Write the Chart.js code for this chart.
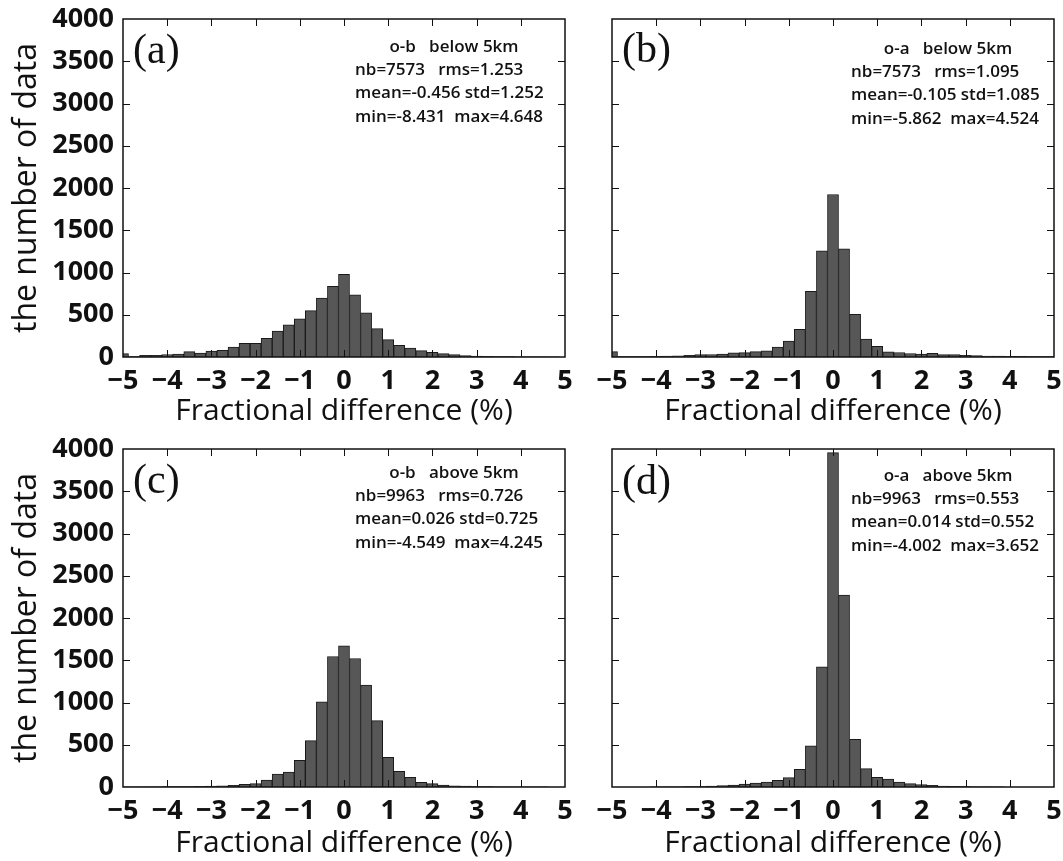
<!DOCTYPE html>
<html lang="en">
<head>
    <meta charset="UTF-8">
    <title>Fractional difference histograms</title>
    <script src="https://cdn.jsdelivr.net/npm/chart.js"></script>
    <style>
        body {
            margin: 0;
            background: #fff;
        }
        #fig {
            position: relative;
            width: 1063px;
            height: 861px;
            background: #fff;
        }
        canvas {
            position: absolute;
        }
    </style>
</head>
<body>
<div id="fig">
    <canvas id="panelA" width="590" height="430" style="left:0;top:0"></canvas>
    <canvas id="panelB" width="483" height="430" style="left:580px;top:0"></canvas>
    <canvas id="panelC" width="590" height="431" style="left:0;top:430px"></canvas>
    <canvas id="panelD" width="483" height="431" style="left:580px;top:430px"></canvas>
</div>

<script>
    // bin centres (%), 0.25 wide
    const binCenters = [
        -5, -4.75, -4.5, -4.25, -4, -3.75, -3.5, -3.25, -3, -2.75,
        -2.5, -2.25, -2, -1.75, -1.5, -1.25, -1, -0.75, -0.5, -0.25,
        0, 0.25, 0.5, 0.75, 1, 1.25, 1.5, 1.75, 2, 2.25,
        2.5, 2.75, 3, 3.25, 3.5, 3.75, 4, 4.25, 4.5, 4.75, 5
    ];

    // (a) o-b below 5km
    const countsA = [
        40, 5, 20, 20, 30, 35, 63, 47, 71, 79,
        118, 161, 161, 220, 307, 382, 453, 548, 697, 835,
        977, 737, 524, 335, 205, 138, 106, 75, 55, 39,
        28, 16, 12, 8, 5, 4, 3, 2, 2, 1, 0
    ];
    // (b) o-a below 5km
    const countsB = [
        63, 5, 5, 6, 8, 10, 15, 20, 28, 30,
        35, 48, 51, 63, 72, 118, 189, 327, 776, 1257,
        1923, 1281, 506, 213, 126, 61, 53, 41, 35, 43,
        28, 28, 20, 16, 12, 10, 8, 8, 6, 5, 4
    ];
    // (c) o-b above 5km
    const countsC = [
        1, 1, 2, 3, 6, 4, 5, 8, 12, 15,
        20, 32, 40, 83, 154, 178, 316, 549, 1007, 1544,
        1671, 1521, 1205, 786, 352, 186, 115, 55, 40, 24,
        15, 10, 6, 4, 3, 2, 1, 1, 1, 0, 0
    ];
    // (d) o-a above 5km
    const countsD = [
        0, 0, 0, 0, 1, 2, 3, 4, 6, 10,
        16, 24, 35, 47, 57, 79, 111, 209, 486, 1422,
        3958, 2271, 565, 217, 115, 95, 59, 40, 28, 20,
        12, 8, 5, 3, 2, 1, 0, 0, 0, 0, 0
    ];

    const statsA = ['o-b   below 5km', 'nb=7573   rms=1.253', 'mean=-0.456 std=1.252', 'min=-8.431  max=4.648'];
    const statsB = ['o-a   below 5km', 'nb=7573   rms=1.095', 'mean=-0.105 std=1.085', 'min=-5.862  max=4.524'];
    const statsC = ['o-b   above 5km', 'nb=9963   rms=0.726', 'mean=0.026 std=0.725', 'min=-4.549  max=4.245'];
    const statsD = ['o-a   above 5km', 'nb=9963   rms=0.553', 'mean=0.014 std=0.552', 'min=-4.002  max=3.652'];

    const xRange = [-5, 5];
    const xStep = 1;
    const yRange = [0, 4000];
    const yStep = 500;

    const xTitle = 'Fractional difference (%)';
    const yTitle = 'the number of data';

    const ink = '#111';
    const barFill = '#575757';
    const barEdge = '#1a1a1a';
    const tickFont = { family: '"Open Sans"', size: 27, weight: 'bold' };
    const xTitleFont = { family: '"Open Sans"', size: 30, weight: 'normal' };
    const yTitleFont = { family: '"Open Sans"', size: 32, weight: 'normal' };

    // frame, inward ticks on all sides, panel letter and stats box
    const framePlugin = {
        id: 'frame',
        afterDatasetsDraw(chart, args, opts) {
            const { ctx, chartArea: a } = chart;
            const x = chart.scales.x, y = chart.scales.y;
            ctx.save();
            ctx.strokeStyle = ink;
            ctx.lineWidth = 1;
            ctx.beginPath();
            x.ticks.forEach(t => {
                const px = Math.round(x.getPixelForValue(t.value)) + 0.5;
                if (px < a.left + 2 || px > a.right - 2) return;
                ctx.moveTo(px, a.bottom); ctx.lineTo(px, a.bottom - 7);
                ctx.moveTo(px, a.top); ctx.lineTo(px, a.top + 7);
            });
            y.ticks.forEach(t => {
                const py = Math.round(y.getPixelForValue(t.value)) + 0.5;
                if (py < a.top + 2 || py > a.bottom - 2) return;
                ctx.moveTo(a.left, py); ctx.lineTo(a.left + 7, py);
                ctx.moveTo(a.right, py); ctx.lineTo(a.right - 7, py);
            });
            ctx.stroke();
            ctx.lineWidth = 1.5;
            ctx.strokeRect(a.left, a.top, a.right - a.left, a.bottom - a.top);

            ctx.fillStyle = ink;
            ctx.textBaseline = 'middle';
            ctx.textAlign = 'left';
            ctx.font = '42px "Liberation Serif"';
            ctx.fillText(opts.letter, a.left + 10, a.top + opts.letterDy);

            ctx.font = '600 17px "Open Sans"';
            ctx.textAlign = 'center';
            ctx.fillText(opts.stats[0], a.left + opts.statCx, a.top + opts.statTop);
            ctx.textAlign = 'left';
            for (let i = 1; i < opts.stats.length; i++) {
                ctx.fillText(opts.stats[i], a.left + opts.statLx, a.top + opts.statTop + i * 23.3);
            }
            ctx.restore();
        }
    };

    function fmtX(v) {
        return v < 0 ? '\u2212' + Math.abs(v) : String(v);
    }

    function makePanel(id, counts, stats, p) {
        return new Chart(document.getElementById(id), {
            type: 'bar',
            data: {
                datasets: [{
                    data: binCenters.map((c, i) => ({ x: c, y: counts[i] })),
                    backgroundColor: barFill,
                    borderColor: barEdge,
                    borderWidth: 1,
                    borderSkipped: 'start',
                    barPercentage: 1,
                    categoryPercentage: 1,
                    clip: 0
                }]
            },
            options: {
                responsive: false,
                animation: false,
                events: [],
                layout: { padding: p.pad },
                plugins: {
                    legend: { display: false },
                    tooltip: { enabled: false },
                    frame: {
                        letter: p.letter, letterDy: p.letterDy, stats: stats,
                        statCx: p.statCx, statLx: p.statLx, statTop: p.statTop
                    }
                },
                scales: {
                    x: {
                        type: 'linear',
                        min: xRange[0], max: xRange[1],
                        offset: false,
                        grid: { display: false, drawTicks: false },
                        border: { display: false },
                        ticks: {
                            stepSize: xStep, autoSkip: false, maxRotation: 0, minRotation: 0,
                            padding: 8, color: ink, font: tickFont, callback: fmtX
                        },
                        title: {
                            display: true, text: xTitle, color: ink, font: xTitleFont,
                            padding: { top: 0, bottom: p.xTitlePad }
                        },
                        afterFit: s => { s.height = p.xHeight; s.paddingLeft = 0; s.paddingRight = 0; }
                    },
                    y: {
                        type: 'linear',
                        min: yRange[0], max: yRange[1],
                        grid: { display: false, drawTicks: false },
                        border: { display: false },
                        ticks: {
                            display: p.showY, stepSize: yStep, padding: 9,
                            color: ink, font: tickFont, callback: v => String(v)
                        },
                        title: {
                            display: p.showY, text: yTitle, color: ink, font: yTitleFont,
                            padding: { top: 8, bottom: 0 }
                        },
                        afterFit: s => { s.width = p.yWidth; s.paddingTop = 0; s.paddingBottom = 0; }
                    }
                }
            },
            plugins: [framePlugin]
        });
    }

    makePanel('panelA', countsA, statsA, {
        pad: { left: 0, top: 19, right: 25, bottom: 0 }, yWidth: 123, xHeight: 73, xTitlePad: 1,
        showY: true, letter: '(a)', letterDy: 33, statCx: 331, statLx: 232, statTop: 28
    });
    makePanel('panelB', countsB, statsB, {
        pad: { left: 32, top: 19, right: 9, bottom: 0 }, yWidth: 0, xHeight: 73, xTitlePad: 1,
        showY: false, letter: '(b)', letterDy: 32, statCx: 336, statLx: 239, statTop: 30
    });
    makePanel('panelC', countsC, statsC, {
        pad: { left: 0, top: 19, right: 25, bottom: 0 }, yWidth: 123, xHeight: 74, xTitlePad: 0,
        showY: true, letter: '(c)', letterDy: 33, statCx: 331, statLx: 232, statTop: 24
    });
    makePanel('panelD', countsD, statsD, {
        pad: { left: 32, top: 19, right: 9, bottom: 0 }, yWidth: 0, xHeight: 74, xTitlePad: 0,
        showY: false, letter: '(d)', letterDy: 34, statCx: 336, statLx: 239, statTop: 27
    });
</script>
</body>
</html>
